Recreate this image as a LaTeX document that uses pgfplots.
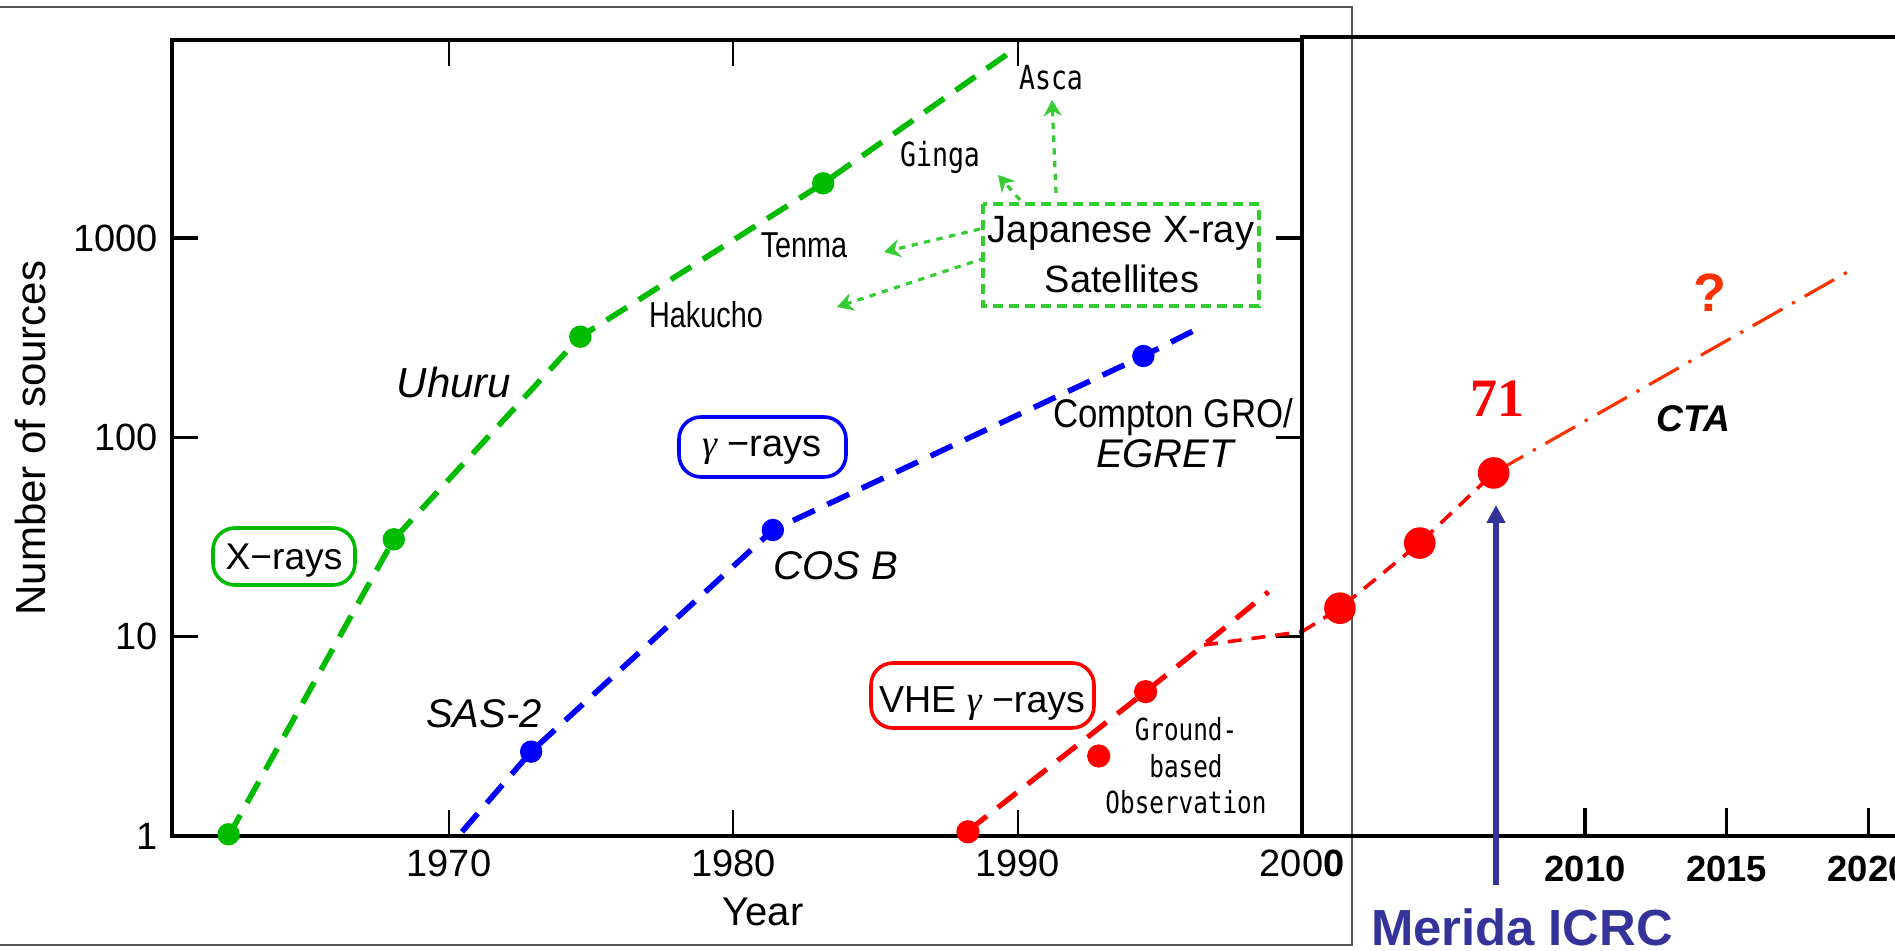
\documentclass[border=0pt]{standalone}
\usepackage{fontspec}
\setmainfont{Liberation Sans}
\newfontfamily\gothic[FakeStretch=0.8]{DejaVu Sans Mono}
\newfontfamily\pgothic[FakeStretch=0.8]{Liberation Sans}
\newfontfamily\cgothic[FakeStretch=0.87]{Liberation Sans}
\newfontfamily\serifb{Liberation Serif}
\usepackage{pgfplots}
\pgfplotsset{compat=1.18}
\usetikzlibrary{arrows.meta}
\definecolor{xgreen}{HTML}{00BB00}
\definecolor{jgreen}{HTML}{33CC33}
\definecolor{gblue}{HTML}{0000FF}
\definecolor{vred}{HTML}{FF0000}
\definecolor{ctaor}{HTML}{FF3300}
\definecolor{merida}{HTML}{333399}
\definecolor{framegray}{HTML}{555555}
\newcommand{\fs}[1]{\fontsize{#1}{#1}\selectfont}
\begin{document}
\begin{tikzpicture}
\useasboundingbox (0,0) rectangle (473.75pt,-237.75pt);
\draw[framegray, line width=0.3pt] (-2pt,-1.75pt) rectangle (338pt,-236.25pt);
\begin{axis}[
  at={(43pt,-209pt)}, anchor=south west, scale only axis,
  width=282.5pt, height=199pt,
  xmin=1960.26, xmax=2000, ymode=log, ymin=1, ymax=9860,
  clip=false,
  axis line style={line width=0.8pt, black},
  xtick={1970,1980,1990,2000},
  xticklabels={1970,1980,1990,200\textbf{0}},
  ytick={1,10,100,1000},
  yticklabels={1,10,100,1000},
  yminorticks=false, xminorticks=false,
  tick align=inside,
  xtick pos=both, ytick pos=both,
  xticklabel pos=left, yticklabel pos=left,
  major tick length=6.5pt,
  xtick style={line width=0.5pt, black},
  ytick style={line width=0.9pt, black},
  ticklabel style={font=\fs{9.5}},
  /pgf/number format/assume math mode=true,
]
\addplot[xgreen, line width=1.4pt, dash pattern=on 6pt off 3.5pt] coordinates {(1962.25,1.0) (1968.06,30.8) (1974.62,320) (1983.16,1883) (1990.0,9100)};
\addplot[only marks, mark=*, mark size=2.6pt, xgreen] coordinates {(1962.25,1.02) (1968.06,30.8) (1974.62,320) (1983.16,1883)};
\addplot[gblue, line width=1.4pt, dash pattern=on 6pt off 3.5pt] coordinates {(1970.46,1.05) (1972.89,2.65) (1981.39,34.3) (1994.42,256) (1996.35,352)};
\addplot[only marks, mark=*, mark size=2.6pt, gblue] coordinates {(1972.89,2.65) (1981.39,34.3) (1994.42,256)};
\addplot[vred, line width=1.3pt, dash pattern=on 6pt off 3.5pt] coordinates {(1988.25,1.06) (1994.5,5.3) (1996.55,9.09) (1998.82,16.8)};
\addplot[vred, line width=0.9pt, dash pattern=on 3.5pt off 2.5pt] coordinates {(1996.55,9.09) (2000,10.6)};
\addplot[only marks, mark=*, mark size=2.7pt, vred] coordinates {(1988.25,1.05) (1992.85,2.52) (1994.5,5.3)};
\end{axis}
\begin{axis}[
  at={(325.5pt,-209pt)}, anchor=south west, scale only axis,
  width=148.25pt, height=199pt,
  xmin=2000, xmax=2020.95, ymode=log, ymin=1, ymax=9860,
  clip=false,
  axis line style={draw=none},
  xtick={2010,2015,2020},
  xticklabels={\textbf{2010},\textbf{2015},\textbf{2020}},
  ytick=\empty, yminorticks=false, xminorticks=false,
  tick align=inside,
  xtick pos=left, xticklabel pos=left,
  major tick length=7pt,
  xtick style={line width=0.8pt, black},
  xticklabel style={font=\fs{9.1}, yshift=-1.5pt},
]
\draw[line width=0.8pt] (rel axis cs:0,0) -- (rel axis cs:1.05,0);
\addplot[vred, line width=0.9pt, dash pattern=on 3.8pt off 2.5pt] coordinates {(2000,10.6) (2001.34,13.9) (2004.16,29.5) (2006.77,66.3)};
\addplot[ctaor, line width=0.8pt, dash pattern=on 8.5pt off 2.8pt on 0.8pt off 2.8pt] coordinates {(2006.77,66.3) (2019.5,705)};
\addplot[only marks, mark=*, mark size=3.75pt, vred] coordinates {(2001.34,13.9) (2004.16,29.5) (2006.77,66.3)};
\end{axis}
\begin{scope}[x=0.25pt,y=-0.25pt]
\draw[line width=1.2pt] (1302,35) -- (1302,837);
\draw[line width=0.8pt] (1302,37) -- (1900,37);
% axis titles
\node[rotate=90, anchor=base, font=\fs{10.5}] at (45,438) {Number of sources};
\node[anchor=base, font=\fs{10}] at (763,925) {Year};
% x-ray annotations
\node[anchor=base, font=\fs{10.5}\itshape] at (454,398) {Uhuru};
\draw[xgreen, line width=0.9pt, rounded corners=5.5pt] (213,528) rectangle (355,585);
\node[anchor=base, font=\fs{9.3}] at (284,570) {X−rays};
\node[anchor=base, font=\fs{9}\pgothic] at (706,328) {Hakucho};
\node[anchor=base, font=\fs{9}\pgothic] at (804,258) {Tenma};
\node[anchor=base, font=\fs{8.3}\gothic] at (940,167) {Ginga};
\node[anchor=base, font=\fs{8.3}\gothic] at (1051,90) {Asca};
\draw[jgreen, line width=0.8pt, dash pattern=on 2.5pt off 1.5pt] (983,204) rectangle (1259,306);
\node[anchor=base, font=\fs{9.5}] at (1121,243) {Japanese X-ray};
\node[anchor=base, font=\fs{9.5}] at (1122,293) {Satellites};
\begin{scope}[jgreen, line width=0.8pt, dash pattern=on 1.6pt off 1.6pt]
\draw[-{Stealth[length=4pt,width=4.5pt]}] (1056,193) -- (1052,100);
\draw[-{Stealth[length=4pt,width=4.5pt]}] (1020,200) -- (998,175);
\draw[-{Stealth[length=4pt,width=4.5pt]}] (980,229) -- (884,252);
\draw[-{Stealth[length=4pt,width=4.5pt]}] (985,258) -- (837,307);
\end{scope}
% gamma annotations
\node[anchor=base, font=\fs{10}\itshape] at (484,728) {SAS-2};
\draw[gblue, line width=0.9pt, rounded corners=5.5pt] (679,417) rectangle (846,477);
\node[anchor=base, font=\fs{9.5}] at (762,457) {{\serifb\itshape γ} −rays};
\node[anchor=base, font=\fs{10}\itshape] at (836,580) {COS B};
\node[anchor=base, font=\fs{10}\cgothic] at (1173,428) {Compton GRO/};
\node[anchor=base, font=\fs{10}\itshape] at (1165,468) {EGRET};
% VHE annotations
\draw[vred, line width=0.9pt, rounded corners=5.5pt] (871,663) rectangle (1094,728);
\node[anchor=base, font=\fs{9.4}] at (982,712) {VHE {\serifb\itshape γ} −rays};
\node[anchor=base, font=\fs{7.6}\gothic] at (1186,740) {Ground-};
\node[anchor=base, font=\fs{7.6}\gothic] at (1186,777) {based};
\node[anchor=base, font=\fs{7.6}\gothic] at (1186,813) {Observation};
% right panel annotations
\node[anchor=base, text=vred, font=\fs{13.5}\serifb\bfseries] at (1497,417) {71};
\node[anchor=base, text=ctaor, font=\fs{13.5}\bfseries] at (1710,312) {?};
\node[anchor=base, font=\fs{9.3}\bfseries\itshape] at (1693,432) {CTA};
\draw[merida, line width=1.5pt, -{Triangle[length=4.5pt,width=4.5pt]}] (1496,885) -- (1496,505);
\node[anchor=base, text=merida, font=\fs{12.7}\bfseries] at (1522,945) {Merida ICRC};
\end{scope}
\end{tikzpicture}
\end{document}
